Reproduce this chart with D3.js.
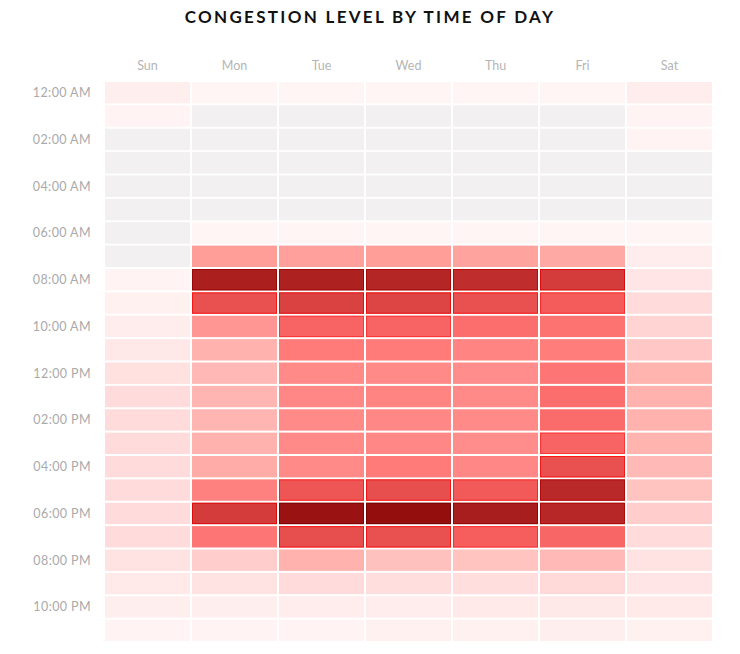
<!DOCTYPE html>
<html>
<head>
<meta charset="utf-8">
<script src="https://cdn.jsdelivr.net/npm/d3@7"></script>
<style>
  body { margin: 0; background: #fff; }
  svg { display: block; }
</style>
</head>
<body>
<div id="chart"></div>
<script>
var width = 740;
var height = 654;

var days = ["Sun", "Mon", "Tue", "Wed", "Thu", "Fri", "Sat"];
var hours = ["12:00 AM", "01:00 AM", "02:00 AM", "03:00 AM", "04:00 AM", "05:00 AM",
  "06:00 AM", "07:00 AM", "08:00 AM", "09:00 AM", "10:00 AM", "11:00 AM",
  "12:00 PM", "01:00 PM", "02:00 PM", "03:00 PM", "04:00 PM", "05:00 PM",
  "06:00 PM", "07:00 PM", "08:00 PM", "09:00 PM", "10:00 PM", "11:00 PM"];

// one array per day, 24 hourly values, null = no data (grey)
var sun = [5, 3, null, null, null, null, null, null, 3, 4, 6, 8, 11, 13, 13, 13, 13, 13, 13, 13, 10, 7, 5, 3];
var mon = [2, null, null, null, null, null, 2, 40, 92, 68, 42, 33, 30, 31, 31, 33, 35, 49, 78, 53, 20, 10, 5, 3];
var tue = [2, null, null, null, null, null, 2, 39, 91, 75, 60, 51, 46, 47, 46, 46, 46, 66, 98, 69, 33, 13, 6, 3];
var wed = [2, null, null, null, null, null, 2, 40, 89, 74, 60, 51, 46, 48, 47, 47, 51, 69, 100, 68, 26, 12, 6, 4];
var thu = [2, null, null, null, null, null, 2, 38, 85, 68, 56, 48, 45, 46, 46, 45, 47, 64, 93, 62, 25, 12, 7, 4];
var fri = [2, null, null, null, null, null, 2, 36, 78, 63, 54, 50, 53, 56, 57, 60, 68, 87, 88, 59, 29, 14, 8, 5];
var sat = [6, 3, 3, null, null, null, 2, 6, 9, 13, 17, 23, 32, 33, 33, 32, 29, 25, 20, 13, 10, 9, 7, 4];
var series = [sun, mon, tue, wed, thu, fri, sat];

var margin = { top: 81, right: 27, bottom: 12, left: 104 };

var svg = d3.select("#chart")
  .append("svg")
  .attr("width", width)
  .attr("height", height);

var x = d3.scaleBand()
  .domain(days)
  .range([margin.left, width - margin.right]);

var y = d3.scaleBand()
  .domain(hours)
  .range([margin.top, height - margin.bottom]);

var color = d3.scaleLinear()
  .domain([0, 13, 33, 50, 62, 78, 100])
  .range(["#fffafa", "#ffdcdb", "#ffb2ae", "#ff7e7c", "#f65e5e", "#d43c3c", "#940e0e"])
  .interpolate(d3.interpolateRgb)
  .clamp(true);

var cells = [];
series.forEach(function(vals, i) {
  vals.forEach(function(v, j) {
    cells.push({ day: days[i], hour: hours[j], value: v });
  });
});

var gap = 1;

svg.selectAll("rect.cell")
  .data(cells)
  .enter()
  .append("rect")
    .attr("class", "cell")
    .attr("x", function(d) { return x(d.day) + gap; })
    .attr("y", function(d) { return y(d.hour) + gap; })
    .attr("width", x.bandwidth() - gap * 2)
    .attr("height", y.bandwidth() - gap * 2)
    .attr("fill", function(d) { return d.value == null ? "#f2f0f1" : color(d.value); });

// outline on the heavier cells
svg.selectAll("rect.edge")
  .data(cells.filter(function(d) { return d.value != null && d.value >= 60; }))
  .enter()
  .append("rect")
    .attr("class", "edge")
    .attr("x", function(d) { return x(d.day) + gap + 0.5; })
    .attr("y", function(d) { return y(d.hour) + gap + 0.5; })
    .attr("width", x.bandwidth() - gap * 2 - 1)
    .attr("height", y.bandwidth() - gap * 2 - 1)
    .attr("fill", "none")
    .attr("stroke", function(d) {
      var c = d3.hsl(color(d.value));
      c.s = 1;
      c.l = c.l - 0.1;
      return c.toString();
    })
    .attr("stroke-opacity", 0.8)
    .attr("stroke-width", 1);

// title
svg.append("text")
  .attr("x", width / 2)
  .attr("y", 23)
  .attr("text-anchor", "middle")
  .attr("font-family", "Lato, 'Open Sans', sans-serif")
  .attr("font-weight", 700)
  .attr("font-size", "17px")
  .attr("letter-spacing", "2.3px")
  .attr("fill", "#111")
  .text("CONGESTION LEVEL BY TIME OF DAY");

// day labels
svg.selectAll("text.day")
  .data(days)
  .enter()
  .append("text")
    .attr("class", "day")
    .attr("x", function(d) { return x(d) + x.bandwidth() / 2; })
    .attr("y", 70)
    .attr("text-anchor", "middle")
    .attr("font-family", "Lato, 'Open Sans', sans-serif")
    .attr("font-size", "12.5px")
    .attr("fill", "#b5b5b5")
    .text(function(d) { return d; });

// hour labels, every second hour
svg.selectAll("text.hour")
  .data(hours.filter(function(d, i) { return i % 2 === 0; }))
  .enter()
  .append("text")
    .attr("class", "hour")
    .attr("x", 91)
    .attr("y", function(d) { return y(d) + y.bandwidth() / 2; })
    .attr("dy", "0.35em")
    .attr("text-anchor", "end")
    .attr("font-family", "Lato, 'Open Sans', sans-serif")
    .attr("font-size", "12.5px")
    .attr("letter-spacing", "0.4px")
    .attr("fill", "#aaaaaa")
    .text(function(d) { return d; });
</script>
</body>
</html>
